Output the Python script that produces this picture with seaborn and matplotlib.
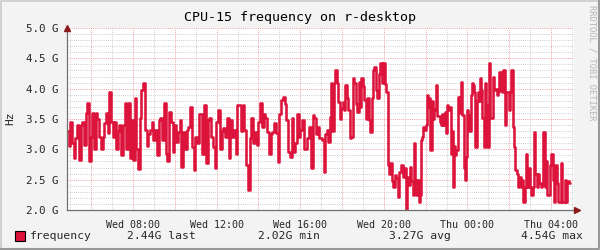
import numpy as np
import pandas as pd
import matplotlib
matplotlib.use("Agg")
import matplotlib.pyplot as plt
import seaborn as sns
from matplotlib.patches import Rectangle
from matplotlib.lines import Line2D

# ---- data (GHz), read per time block (hours from Wed 00:00) ----
block_edges = [4.84, 8.81, 12.83, 16.85, 20.87, 24.89, 28.91]

seg1 = [3.3, 3.05, 3.45, 3.1, 2.85, 3.18, 3.4, 2.82, 3.4, 3.45, 3.07, 3.6, 3.76, 2.8,
        3.2, 3.6, 3.0, 3.6, 3.5, 3.2, 3.0, 3.2, 3.43, 3.6, 3.27, 3.95, 3.45, 3.2, 3.45,
        3.0, 3.3, 3.4, 2.9, 3.4, 3.76, 3.0, 3.76, 2.85, 3.48, 2.82, 3.84, 3.0, 2.68,
        3.51, 3.98, 4.09, 3.32, 3.05, 3.25]
seg2 = [3.32, 3.45, 3.15, 3.32, 2.9, 3.48, 3.51, 3.15, 3.76, 2.93, 2.8, 3.62, 3.45,
        2.95, 3.4, 3.12, 3.29, 3.48, 2.71, 3.29, 3.0, 3.32, 3.37, 3.69, 3.04, 2.66, 3.2,
        3.1, 3.59, 3.59, 2.93, 3.73, 2.77, 3.48, 3.51, 3.2, 3.04, 2.69, 3.45, 3.65, 3.0,
        3.3, 3.35, 3.2, 3.51, 2.85, 3.48, 3.2]
seg3 = [3.32, 2.93, 3.73, 3.73, 3.3, 3.73, 3.32, 2.74, 2.33, 3.18, 3.51, 3.1, 3.29,
        3.07, 3.45, 3.76, 3.37, 3.59, 3.51, 3.29, 2.93, 3.26, 3.29, 3.43, 3.27, 2.79,
        3.59, 3.81, 3.87, 3.75, 3.48, 2.96, 2.88, 3.51, 2.96, 3.1, 3.59, 3.2, 3.32, 3.48,
        3.0, 3.0, 3.18, 3.37, 2.69, 3.56, 3.51, 3.26]
seg4 = [3.37, 3.18, 3.18, 3.15, 2.63, 3.26, 3.32, 3.12, 3.54, 4.09, 3.3, 4.09, 4.31,
        4.09, 3.78, 3.5, 3.68, 3.78, 3.65, 4.06, 3.84, 3.65, 3.18, 3.21, 4.17, 4.1, 3.75,
        3.62, 4.11, 3.7, 4.17, 4.05, 3.81, 3.5, 3.84, 3.48, 3.29, 3.84, 4.31, 4.36, 3.98,
        3.84, 4.25, 4.42, 4.1, 4.42, 4.08, 3.95, 2.74, 2.6, 2.77, 2.47, 2.38, 2.58, 2.52,
        2.22, 2.63, 2.74]
seg5 = [2.74, 2.55, 2.69, 2.02, 2.55, 2.55, 2.41, 2.71, 2.47, 2.25, 3.1, 2.5, 2.25,
        2.49, 2.14, 2.25, 3.15, 3.2, 3.37, 3.32, 3.4, 3.9, 3.7, 3.84, 2.99, 3.8, 3.5,
        3.67, 3.65, 4.06, 3.55, 3.55, 3.45, 3.4, 3.59, 3.4, 3.62, 3.27, 3.73, 3.65, 3.7,
        2.93, 3.3, 2.38, 3.05, 2.9, 2.99, 3.87, 3.6, 3.87, 4.11, 3.57, 2.7, 2.49, 2.88,
        3.65, 3.57, 3.3, 3.9, 4.09, 4.06, 3.95, 3.04, 3.8, 3.95, 3.8, 4.17, 3.98, 3.51,
        3.04, 4.09]
seg6 = [3.73, 3.04, 4.42, 3.51, 3.51, 4.2, 3.98, 4.0, 3.9, 3.95, 4.28, 3.98, 3.95,
        4.31, 3.4, 3.95, 3.95, 3.65, 3.95, 4.31, 3.37, 3.04, 2.66, 2.6, 2.38, 2.55, 2.38,
        2.5, 2.14, 2.38, 2.93, 2.38, 2.69, 2.38, 2.25, 2.38, 3.29, 2.6, 2.38, 2.6, 2.45,
        2.38, 2.42, 3.29, 2.38, 2.8, 2.25, 2.25, 2.74, 2.93, 2.5, 2.14, 2.74, 2.45, 2.14,
        2.14, 2.77, 2.14, 2.14, 2.5, 2.14, 2.47, 2.44]
segments = [seg1, seg2, seg3, seg4, seg5, seg6]

tick_hours = [8, 12, 16, 20, 24, 28]
tick_labels = ["Wed 08:00", "Wed 12:00", "Wed 16:00", "Wed 20:00", "Thu 00:00", "Thu 04:00"]
y_ticks = [2.0, 2.5, 3.0, 3.5, 4.0, 4.5, 5.0]
y_tick_labels = ["2.0 G", "2.5 G", "3.0 G", "3.5 G", "4.0 G", "4.5 G", "5.0 G"]
legend_name = "frequency"
legend_stats = ["2.44G last", "2.02G min", "3.27G avg", "4.54G max"]
title = "CPU-15 frequency on r-desktop"

# build a time series
times, vals = [], []
for i, seg in enumerate(segments):
    t = np.linspace(block_edges[i], block_edges[i + 1], len(seg) + 1)[:-1]
    times.extend(t)
    vals.extend(seg)
times.append(block_edges[-1])
vals.append(segments[-1][-1])
df = pd.DataFrame({"hour": times, "ghz": vals})

# ---- figure ----
sns.set_style("white")
mono = ["DejaVu Sans Mono"]
plt.rcParams["font.family"] = mono

W, H = 600, 250
fig = plt.figure(figsize=(6, 2.5), dpi=100, facecolor="#F3F3F3")
ax = fig.add_axes([67 / W, 40 / H, 507 / W, 182 / H])
ax.set_facecolor("white")

MAJ = "#F4A0A0"
MIN = "#CDCDCD"
dots = (0, (1, 1.2))

ax.set_xlim(4.842, 29.10)
ax.set_ylim(2.0, 5.0)

# grid
for h in np.arange(5, 30, 1):
    col = MAJ if h % 2 == 0 else MIN
    ax.axvline(h, color=col, lw=0.7, ls=dots, zorder=1)
for yv in np.round(np.arange(2.1, 5.01, 0.1), 2):
    col = MAJ if abs(yv * 2 - round(yv * 2)) < 1e-6 else MIN
    ax.axhline(yv, color=col, lw=0.7, ls=dots, zorder=1)

sns.lineplot(data=df, x="hour", y="ghz", drawstyle="steps-post", color="#DC143C",
             lw=1.85, estimator=None, sort=False, ax=ax, zorder=3)

ax.set_xlabel("")
ax.set_ylabel("")
ax.set_xticks(np.arange(6, 30, 2))
ax.set_xticklabels([tick_labels[tick_hours.index(h)] if h in tick_hours else "" for h in range(6, 30, 2)],
                   fontsize=7.2)
ax.set_yticks(y_ticks)
ax.set_yticklabels(y_tick_labels, fontsize=7.8)
ax.tick_params(axis="both", length=3, width=0.8, color="#808080", pad=3)
ax.tick_params(axis="x", pad=4)

for s in ["top", "right"]:
    ax.spines[s].set_visible(False)
for s in ["left", "bottom"]:
    ax.spines[s].set_color("#707070")
    ax.spines[s].set_linewidth(0.9)
    ax.spines[s].set_zorder(4)

# arrows
ax.plot([0], [1.0], marker="^", color="#8B1A1A", ms=4, transform=ax.transAxes, clip_on=False, zorder=5)
ax.plot([1.005], [0], marker=">", color="#8B1A1A", ms=4, transform=ax.transAxes, clip_on=False, zorder=5)

# title, labels
fig.text(300 / W, 1 - 18 / H, title, ha="center", va="center", fontsize=9.6, color="black")
fig.text(10 / W, 1 - 118 / H, "Hz", ha="center", va="center", rotation=90, fontsize=8)
fig.text(592 / W, 1 - 5 / H, "RRDTOOL / TOBI OETIKER", ha="center", va="top", rotation=270,
         fontsize=6.3, color="#B4B4B4")

# legend
fig.patches.append(Rectangle((14.5 / W, 1 - 241 / H), 10 / W, 10 / H, transform=fig.transFigure,
                             facecolor="#DC143C", edgecolor="black", lw=0.8))
fig.text(30 / W, 1 - 236 / H, legend_name, ha="left", va="center", fontsize=8.2)
for xpos, txt in zip([127, 258, 389, 521], legend_stats):
    fig.text(xpos / W, 1 - 236 / H, txt, ha="left", va="center", fontsize=8.2)

# 3D frame
fig.lines.append(Line2D([0.5 / W, 0.5 / W, 1], [0, 1 - 0.5 / H, 1 - 0.5 / H], transform=fig.transFigure,
                        color="#CBCBCB", lw=1.2))
fig.lines.append(Line2D([0, 1 - 0.8 / W, 1 - 0.8 / W], [0.8 / H, 0.8 / H, 1], transform=fig.transFigure,
                        color="#999999", lw=1.5))

fig.savefig("out.png", dpi=100, facecolor=fig.get_facecolor())
